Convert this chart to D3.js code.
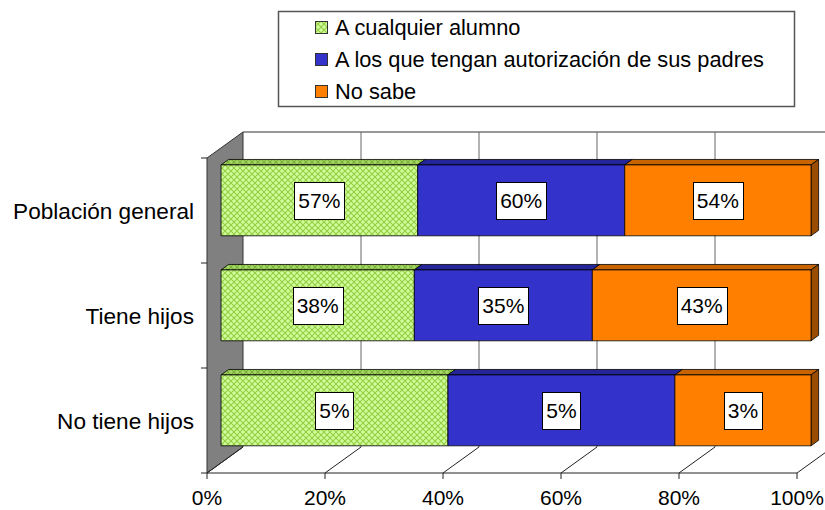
<!DOCTYPE html>
<html>
<head>
<meta charset="utf-8">
<script src="https://cdnjs.cloudflare.com/ajax/libs/d3/7.8.5/d3.min.js"></script>
<style>
body { margin: 0; background: #fff; }
svg { display: block; font-family: "Liberation Sans", Arial, sans-serif; }
</style>
</head>
<body>
<div id="vis"></div>
<script>
// datos
var categorias = ["Población general", "Tiene hijos", "No tiene hijos"];
var series = ["A cualquier alumno", "A los que tengan autorización de sus padres", "No sabe"];
var cualquierAlumno = [57, 38, 5];
var autorizacionPadres = [60, 35, 5];
var noSabe = [54, 43, 3];
var ticksX = [0, 0.2, 0.4, 0.6, 0.8, 1];

const width = 825;
const height = 510;

var svg = d3
  .select("#vis")
  .append("svg")
  .attr("width", width)
  .attr("height", height);

// patterns for the green series
var defs = svg.append("defs");
function hatch(id, base, line) {
  var p = defs.append("pattern")
    .attr("id", id)
    .attr("width", 6)
    .attr("height", 6)
    .attr("patternUnits", "userSpaceOnUse");
  p.append("rect").attr("width", 6).attr("height", 6).attr("fill", base);
  p.append("path")
    .attr("d", "M0,0L6,6M6,0L0,6")
    .attr("stroke", line)
    .attr("stroke-width", 1.1);
}
hatch("verde", "#ccff99", "#99cc44");
hatch("verdeTop", "#a6d867", "#7aad35");

var keys = ["a", "b", "c"];
var frente = { a: "url(#verde)", b: "#3333cc", c: "#ff8000" };
var arriba = { a: "url(#verdeTop)", b: "#25259a", c: "#c86400" };
var lado = { a: "#7aad35", b: "#1e1e80", c: "#9a4d00" };

var tabla = categorias.map(function(c, i) {
  return { cat: c, a: cualquierAlumno[i], b: autorizacionPadres[i], c: noSabe[i] };
});

var stack = d3.stack().keys(keys).offset(d3.stackOffsetExpand);
var capas = stack(tabla);

// front plane scales
var x = d3.scaleLinear().domain([0, 1]).range([207, 797]);
var y = d3.scaleBand()
  .domain(categorias)
  .range([158, 473])
  .paddingInner(0.325)
  .paddingOuter(0.1625);

// oblique depth
const depthX = 36;
const depthY = -26;
const d0 = 0.39;
const d1 = 0.6;
function px(v, d) { return x(v) + d * depthX; }
function py(yy, d) { return yy + d * depthY; }
function poly(pts) {
  return "M" + pts.map(function(p) { return p[0] + "," + p[1]; }).join("L") + "Z";
}

var y0 = y.range()[0], y1 = y.range()[1];

// left wall
svg.append("path")
  .attr("d", poly([[px(0, 0), y0], [px(0, 1), py(y0, 1)], [px(0, 1), py(y1, 1)], [px(0, 0), y1]]))
  .attr("fill", "#808080")
  .attr("stroke", "#333")
  .attr("stroke-width", 1);

// back wall top + gridlines
svg.append("line")
  .attr("x1", px(0, 1)).attr("y1", py(y0, 1))
  .attr("x2", px(1, 1)).attr("y2", py(y0, 1))
  .attr("stroke", "#333");

svg.append("g")
  .selectAll("line")
  .data(ticksX.slice(1))
  .enter()
  .append("line")
  .attr("x1", function(d) { return px(d, 1); })
  .attr("x2", function(d) { return px(d, 1); })
  .attr("y1", py(y0, 1))
  .attr("y2", py(y1, 1))
  .attr("stroke", "#666");

// floor
svg.append("line")
  .attr("x1", px(0, 0)).attr("y1", y1)
  .attr("x2", px(1, 0)).attr("y2", y1)
  .attr("stroke", "#222");

var piso = svg.append("g").selectAll("g").data(ticksX).enter().append("g");
piso.append("line")
  .attr("x1", function(d) { return px(d, 0); })
  .attr("y1", y1)
  .attr("x2", function(d) { return px(d, 1); })
  .attr("y2", py(y1, 1))
  .attr("stroke", "#222");
piso.append("line")
  .attr("x1", function(d) { return px(d, 0); })
  .attr("x2", function(d) { return px(d, 0); })
  .attr("y1", y1)
  .attr("y2", y1 + 6)
  .attr("stroke", "#222");
piso.append("text")
  .attr("x", function(d) { return px(d, 0); })
  .attr("y", 505)
  .attr("text-anchor", "middle")
  .style("font-size", "21px")
  .text(function(d) { return Math.round(d * 100) + "%"; });

// y axis ticks and labels
var bordes = [0, 1, 2, 3].map(function(i) { return y0 + i * y.step(); });
svg.append("g")
  .selectAll("line")
  .data(bordes)
  .enter()
  .append("line")
  .attr("x1", px(0, 0) - 6)
  .attr("x2", px(0, 0))
  .attr("y1", function(d) { return d; })
  .attr("y2", function(d) { return d; })
  .attr("stroke", "#222");

svg.append("g")
  .selectAll("text")
  .data(categorias)
  .enter()
  .append("text")
  .attr("x", 194)
  .attr("y", function(d) { return y(d) + y.bandwidth() / 2; })
  .attr("dy", "0.36em")
  .attr("text-anchor", "end")
  .style("font-size", "22.6px")
  .text(function(d) { return d; });

// bars
var capaG = svg.append("g")
  .selectAll("g")
  .data(capas)
  .enter()
  .append("g");

capaG.each(function(capa) {
  var g = d3.select(this);
  var k = capa.key;
  capa.forEach(function(s) {
    var yb = y(s.data.cat);
    var yt = yb + y.bandwidth();
    g.append("path")
      .attr("d", poly([[px(s[0], d0), py(yb, d0)], [px(s[0], d1), py(yb, d1)],
                       [px(s[1], d1), py(yb, d1)], [px(s[1], d0), py(yb, d0)]]))
      .attr("fill", arriba[k])
      .attr("stroke", "#000")
      .attr("stroke-width", 0.8);
    if (k === "c") {
      g.append("path")
        .attr("d", poly([[px(s[1], d0), py(yb, d0)], [px(s[1], d1), py(yb, d1)],
                         [px(s[1], d1), py(yt, d1)], [px(s[1], d0), py(yt, d0)]]))
        .attr("fill", lado[k])
        .attr("stroke", "#000")
        .attr("stroke-width", 0.8);
    }
    g.append("path")
      .attr("d", poly([[px(s[0], d0), py(yb, d0)], [px(s[1], d0), py(yb, d0)],
                       [px(s[1], d0), py(yt, d0)], [px(s[0], d0), py(yt, d0)]]))
      .attr("fill", frente[k])
      .attr("stroke", "#000")
      .attr("stroke-width", 0.8);
  });
});

// value labels
var valores = { a: cualquierAlumno, b: autorizacionPadres, c: noSabe };
capas.forEach(function(capa) {
  capa.forEach(function(s, i) {
    var cx = (px(s[0], d0) + px(s[1], d0)) / 2;
    var cy = py(y(s.data.cat) + y.bandwidth() / 2, d0);
    var lab = svg.append("g");
    var rect = lab.append("rect").attr("fill", "#fff").attr("stroke", "#000").attr("stroke-width", 1);
    var t = lab.append("text")
      .attr("x", cx)
      .attr("y", cy)
      .attr("dy", "0.36em")
      .attr("text-anchor", "middle")
      .style("font-size", "21px")
      .text(valores[capa.key][i] + "%");
    var w = t.node().getComputedTextLength() + 8;
    rect.attr("x", Math.round(cx - w / 2) + 0.5)
      .attr("y", Math.round(cy - 18.5) + 0.5)
      .attr("width", Math.round(w))
      .attr("height", 37);
  });
});

// legend
svg.append("rect")
  .attr("x", 278.5).attr("y", 11.5)
  .attr("width", 516).attr("height", 95)
  .attr("fill", "#fff")
  .attr("stroke", "#555")
  .attr("stroke-width", 1.5);

var leyenda = svg.append("g")
  .selectAll("g")
  .data(series)
  .enter()
  .append("g")
  .attr("transform", function(d, i) { return "translate(315," + (27 + i * 32) + ")"; });

leyenda.append("rect")
  .attr("x", 0.5).attr("y", -5.5)
  .attr("width", 12).attr("height", 12)
  .attr("fill", function(d, i) { return frente[keys[i]]; })
  .attr("stroke", "#333");

leyenda.append("text")
  .attr("x", 20)
  .attr("y", 0)
  .attr("dy", "0.36em")
  .style("font-size", "21.8px")
  .text(function(d) { return d; });
</script>
</body>
</html>
